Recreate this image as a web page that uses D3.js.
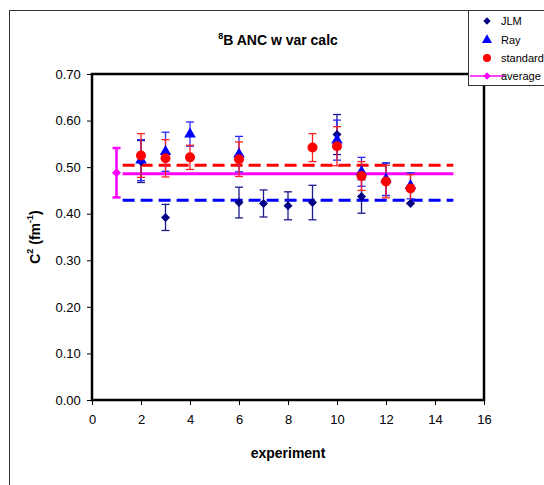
<!DOCTYPE html>
<html><head><meta charset="utf-8">
<script src="https://cdn.jsdelivr.net/npm/d3@7"></script>
<style>body{margin:0;background:#fff}svg{display:block;font-family:Arial,"Liberation Sans",sans-serif}</style>
</head><body>
<script>
// Data
const jlmX   = [2, 3, 6, 7, 8, 9, 10, 11, 12, 13];
const jlmY   = [0.512, 0.392, 0.424, 0.422, 0.417, 0.424, 0.570, 0.437, 0.474, 0.422];
const jlmErr = [0.045, 0.028, 0.033, 0.029, 0.030, 0.037, 0.043, 0.036, 0.035, 0.0];
const rayX   = [2, 3, 4, 6, 10, 11, 12, 13];
const rayY   = [0.515, 0.533, 0.571, 0.528, 0.558, 0.490, 0.474, 0.460];
const rayErr = [0.044, 0.042, 0.026, 0.038, 0.043, 0.031, 0.035, 0.028];
const stdX   = [2, 3, 4, 6, 9, 10, 11, 12, 13];
const stdY   = [0.525, 0.519, 0.521, 0.517, 0.542, 0.545, 0.481, 0.469, 0.454];
const stdErr = [0.047, 0.040, 0.026, 0.037, 0.030, 0.042, 0.031, 0.035, 0.030];
const avgX = [1], avgY = [0.488], avgErr = [0.053];
const avgLine = {x: [1.25, 14.75], y: 0.486};
const stdLine = {x: [1.25, 14.75], y: 0.504};
const jlmLine = {x: [1.25, 14.75], y: 0.429};
const xTicks = [0, 2, 4, 6, 8, 10, 12, 14, 16];
const yTicks = [0, 0.1, 0.2, 0.3, 0.4, 0.5, 0.6, 0.7];
const legendNames = ["JLM", "Ray", "standard", "average"];

const W = 544, H = 485;
const svg = d3.select("body").append("svg").attr("width", W).attr("height", H);
const L = 92, R = 484, T = 74, B = 400;
const x = d3.scaleLinear().domain([0, 16]).range([L, R]);
const y = d3.scaleLinear().domain([0, 0.7]).range([B, T]);

// outer chart border
svg.append("rect").attr("x", 9.5).attr("y", 10.5).attr("width", 600).attr("height", 600)
  .attr("fill", "none").attr("stroke", "#333").attr("stroke-width", 1);

// title
const title = svg.append("text").attr("x", 278).attr("y", 45).attr("text-anchor", "middle")
  .attr("font-weight", "bold").attr("font-size", 14);
title.append("tspan").attr("font-size", 9).attr("dy", -6).text("8");
title.append("tspan").attr("dy", 6).text("B ANC w var calc");

// axes
const xAxis = svg.append("g").attr("transform", `translate(0,${B})`)
  .call(d3.axisBottom(x).tickValues(xTicks).tickSize(5).tickFormat(d3.format("d")));
const yAxis = svg.append("g").attr("transform", `translate(${L},0)`)
  .call(d3.axisLeft(y).tickValues(yTicks).tickSize(5).tickFormat(d3.format(".2f")));
[xAxis, yAxis].forEach(g => {
  g.select(".domain").remove();
  g.selectAll("text").attr("font-size", 13).attr("fill", "#000").attr("font-family", "Arial, 'Liberation Sans', sans-serif");
  g.selectAll("line").attr("stroke", "#000");
});
xAxis.selectAll("text").attr("dy", "1.25em");
yAxis.selectAll("text").attr("dx", "-0.25em");

// plot frame
svg.append("rect").attr("x", L).attr("y", T).attr("width", R - L).attr("height", B - T)
  .attr("fill", "none").attr("stroke", "#000").attr("stroke-width", 2.5);

// axis labels
svg.append("text").attr("x", 288).attr("y", 458).attr("text-anchor", "middle")
  .attr("font-weight", "bold").attr("font-size", 14).text("experiment");
const yl = svg.append("text").attr("transform", "translate(40,237) rotate(-90)")
  .attr("text-anchor", "middle").attr("font-weight", "bold").attr("font-size", 14);
yl.append("tspan").text("C");
yl.append("tspan").attr("font-size", 9).attr("dy", -7).text("2");
yl.append("tspan").attr("dy", 7).text(" (fm");
yl.append("tspan").attr("font-size", 9).attr("dy", -7).text("-1");
yl.append("tspan").attr("dy", 7).text(")");

// horizontal lines
function hline(ln, color, dash) {
  svg.append("line").attr("x1", x(ln.x[0])).attr("x2", x(ln.x[1]))
    .attr("y1", y(ln.y)).attr("y2", y(ln.y)).attr("stroke", color).attr("stroke-width", 3)
    .attr("stroke-dasharray", dash);
}
hline(jlmLine, "#0000FF", "12,6");
hline(stdLine, "#FF0000", "12,6");
hline(avgLine, "#FF00FF", null);

// error bars
function errBars(xs, ys, es, color, w, cap) {
  const g = svg.append("g").attr("stroke", color).attr("stroke-width", w);
  xs.forEach((xv, i) => {
    if (!es[i]) return;
    const cx = x(xv), y1 = y(ys[i] + es[i]), y2 = y(ys[i] - es[i]);
    g.append("line").attr("x1", cx).attr("x2", cx).attr("y1", y1).attr("y2", y2);
    g.append("line").attr("x1", cx - cap).attr("x2", cx + cap).attr("y1", y1).attr("y2", y1);
    g.append("line").attr("x1", cx - cap).attr("x2", cx + cap).attr("y1", y2).attr("y2", y2);
  });
}
errBars(jlmX, jlmY, jlmErr, "#1a1a8c", 1.3, 4);
errBars(rayX, rayY, rayErr, "#2a2aff", 1.3, 4);
errBars(stdX, stdY, stdErr, "#ff2020", 1.3, 4);
errBars(avgX, avgY, avgErr, "#FF00FF", 2.5, 4);

// markers
const diamond = d3.symbol().type(d3.symbolDiamond2).size(52);
const tri = d3.symbol().type(d3.symbolTriangle).size(58);
function marks(xs, ys, path, color) {
  svg.append("g").selectAll("path").data(xs).join("path")
    .attr("d", path).attr("fill", color)
    .attr("transform", (d, i) => `translate(${x(d)},${y(ys[i])})`);
}
marks(jlmX, jlmY, diamond(), "#000080");
marks(rayX, rayY, tri(), "#0000FF");
svg.append("g").selectAll("circle").data(stdX).join("circle")
  .attr("cx", d => x(d)).attr("cy", (d, i) => y(stdY[i])).attr("r", 5).attr("fill", "#FF0000");
marks(avgX, avgY, diamond(), "#FF00FF");

// legend
const lg = svg.append("g");
lg.append("rect").attr("x", 468.5).attr("y", 10.5).attr("width", 100).attr("height", 75)
  .attr("fill", "#fff").attr("stroke", "#333").attr("stroke-width", 1);
const lyPos = [21, 40, 58, 76];
const lmx = 487;
lg.append("path").attr("d", d3.symbol().type(d3.symbolDiamond2).size(34)()).attr("fill", "#000080")
  .attr("transform", `translate(${lmx},${lyPos[0]})`);
lg.append("path").attr("d", d3.symbol().type(d3.symbolTriangle).size(44)()).attr("fill", "#0000FF")
  .attr("transform", `translate(${lmx},${lyPos[1]})`);
lg.append("circle").attr("cx", lmx).attr("cy", lyPos[2]).attr("r", 4).attr("fill", "#FF0000");
lg.append("line").attr("x1", 470).attr("x2", 505).attr("y1", lyPos[3]).attr("y2", lyPos[3])
  .attr("stroke", "#FF00FF").attr("stroke-width", 1.5);
lg.append("path").attr("d", d3.symbol().type(d3.symbolDiamond2).size(34)()).attr("fill", "#FF00FF")
  .attr("transform", `translate(${lmx},${lyPos[3]})`);
legendNames.forEach((n, i) => {
  lg.append("text").attr("x", 501).attr("y", lyPos[i] + 4).attr("font-size", 11).text(n);
});
</script>
</body></html>
